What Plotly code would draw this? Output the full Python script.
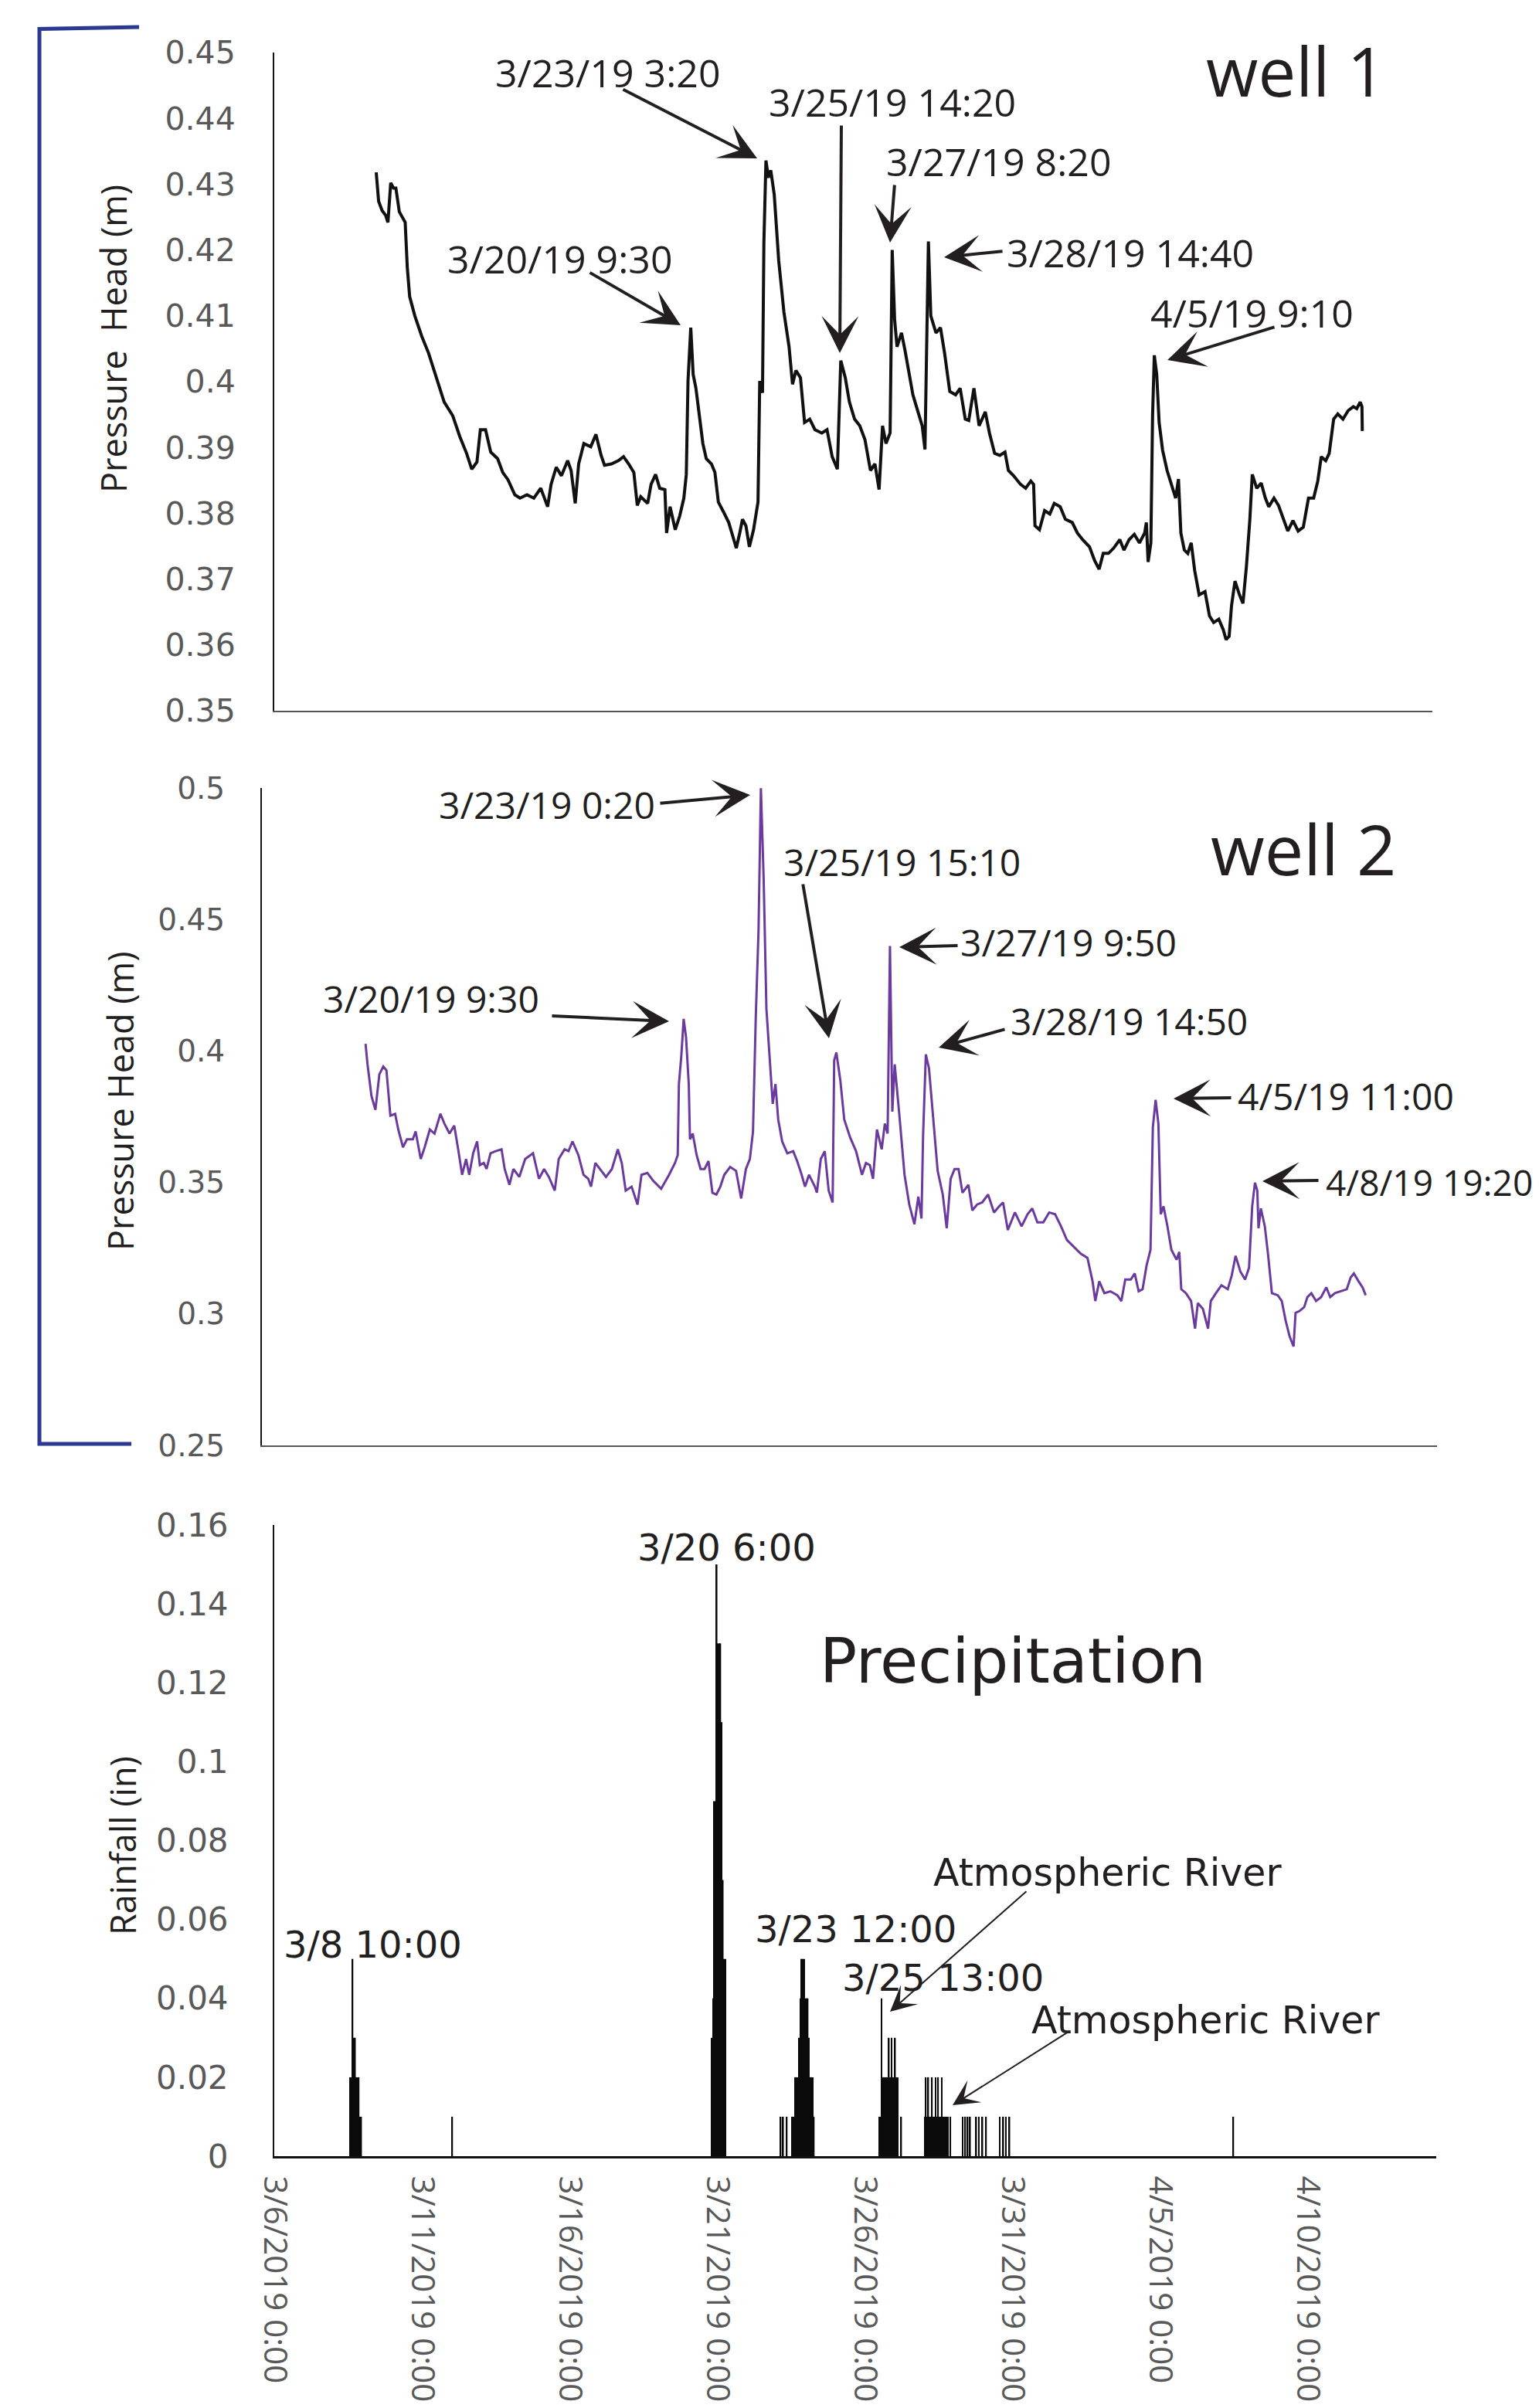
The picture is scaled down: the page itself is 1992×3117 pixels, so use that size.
import plotly.graph_objects as go
import pandas as pd

# ---------------- data ----------------
T0 = pd.Timestamp("2019-03-06 00:00")

# Well 1 pressure head (m); time as elapsed days since 3/6/2019 0:00
well1_days = [3.551, 3.634, 3.753, 3.872, 3.955, 4.051, 4.146, 4.229, 4.348, 4.467, 4.550, 4.622, 4.705, 4.883,
              5.121, 5.359, 5.597, 5.894, 6.192, 6.430, 6.668, 6.846, 7.025, 7.143, 7.322, 7.500, 7.738, 7.916,
              8.095, 8.333, 8.511, 8.749, 8.987, 9.225, 9.463, 9.582, 9.760, 9.939, 10.153, 10.272, 10.414,
              10.533, 10.712, 10.950, 11.128, 11.307, 11.425, 11.663, 11.901, 12.080, 12.258, 12.436, 12.555,
              12.674, 12.912, 13.031, 13.186, 13.329, 13.507, 13.566, 13.686, 13.864, 14.019, 14.161, 14.245,
              14.304, 14.399, 14.482, 14.577, 14.697, 14.816, 14.934, 15.113, 15.232, 15.351, 15.529, 15.708,
              15.850, 15.969, 16.088, 16.183, 16.302, 16.421, 16.564, 16.718, 16.778, 16.873, 16.921, 16.992,
              17.075, 17.159, 17.278, 17.432, 17.611, 17.789, 17.908, 18.027, 18.182, 18.324, 18.503, 18.681,
              18.919, 19.098, 19.276, 19.455, 19.573, 19.728, 19.870, 20.049, 20.227, 20.406,
              20.596, 20.751, 20.894, 21.013, 21.132, 21.274, 21.346, 21.429, 21.512, 21.667, 21.786, 21.905,
              22.060, 22.202, 22.381, 22.476, 22.595, 22.678, 22.856, 23.011, 23.154, 23.332, 23.534, 23.689,
              23.867, 23.986, 24.165, 24.343, 24.557, 24.700, 24.879, 25.057, 25.235, 25.354, 25.533, 25.771,
              25.949, 26.128, 26.223, 26.270, 26.425, 26.603, 26.782, 26.936, 27.139, 27.317, 27.555, 27.733,
              27.912, 28.150, 28.328, 28.483, 28.625, 28.804, 28.982, 29.196, 29.339, 29.517, 29.696, 29.874,
              30.053, 30.112, 30.172, 30.267, 30.326, 30.386, 30.469, 30.552, 30.671, 30.826, 30.981, 31.123,
              31.219, 31.302, 31.421, 31.540, 31.659, 31.778, 31.932, 32.134, 32.289, 32.432, 32.610, 32.765,
              32.860, 32.967, 33.050, 33.169, 33.324, 33.443, 33.562, 33.681, 33.764, 33.919, 34.073, 34.216,
              34.335, 34.513, 34.668, 34.811, 34.989, 35.168, 35.346, 35.524, 35.703, 35.881, 36.024, 36.143,
              36.298, 36.417, 36.571, 36.714, 36.892, 37.071, 37.249, 37.368, 37.487, 37.547, 37.559]
well1_head = [0.4318, 0.4274, 0.4260, 0.4253, 0.4242, 0.4302, 0.4294, 0.4294, 0.4258, 0.4247, 0.4242, 0.4174,
              0.4129, 0.4100, 0.4069, 0.4043, 0.4011, 0.3969, 0.3948, 0.3917, 0.3891, 0.3867, 0.3878, 0.3927,
              0.3927, 0.3893, 0.3883, 0.3862, 0.3851, 0.3828, 0.3823, 0.3828, 0.3823, 0.3838, 0.3810, 0.3844,
              0.3870, 0.3857, 0.3880, 0.3865, 0.3815, 0.3875, 0.3906, 0.3901, 0.3920, 0.3888, 0.3873, 0.3875,
              0.3880, 0.3886, 0.3875, 0.3862, 0.3812, 0.3825, 0.3815, 0.3844, 0.3859, 0.3838, 0.3836, 0.3770,
              0.3810, 0.3775, 0.3796, 0.3823, 0.3859, 0.4001, 0.4082, 0.4011, 0.3990, 0.3948, 0.3906, 0.3883,
              0.3875, 0.3862, 0.3817, 0.3802, 0.3786, 0.3765, 0.3747, 0.3770, 0.3791, 0.3781, 0.3749, 0.3775,
              0.3817, 0.4001, 0.3983, 0.4211, 0.4336, 0.4310, 0.4321, 0.4284, 0.4184, 0.4106, 0.4053, 0.3996,
              0.4017, 0.4006, 0.3938, 0.3943, 0.3927, 0.3922, 0.3927, 0.3886, 0.3867, 0.4032, 0.4006, 0.3969,
              0.3943, 0.3933, 0.3912,
              0.3865, 0.3875, 0.3836, 0.3933, 0.3906, 0.3922, 0.4200, 0.4095, 0.4053, 0.4074, 0.4048, 0.4017,
              0.3980, 0.3959, 0.3933, 0.3897, 0.4213, 0.4100, 0.4074, 0.4082, 0.4043, 0.3985, 0.3980, 0.3990,
              0.3943, 0.3941, 0.3990, 0.3933, 0.3954, 0.3922, 0.3891, 0.3888, 0.3893, 0.3865, 0.3857, 0.3844,
              0.3838, 0.3849, 0.3844, 0.3781, 0.3775, 0.3804, 0.3799, 0.3815, 0.3810, 0.3791, 0.3786, 0.3770,
              0.3760, 0.3749, 0.3728, 0.3715, 0.3739, 0.3739, 0.3747, 0.3760, 0.3744, 0.3760, 0.3768, 0.3755,
              0.3770, 0.3786, 0.3726, 0.3755, 0.3948, 0.4040, 0.4011, 0.3938, 0.3896, 0.3865, 0.3844, 0.3823,
              0.3852, 0.3770, 0.3744, 0.3739, 0.3755, 0.3713, 0.3676, 0.3681, 0.3644, 0.3634, 0.3639, 0.3623,
              0.3608, 0.3613, 0.3660, 0.3697, 0.3676, 0.3663, 0.3719, 0.3791, 0.3859, 0.3838, 0.3846, 0.3823,
              0.3810, 0.3823, 0.3812, 0.3794, 0.3773, 0.3789, 0.3773, 0.3779, 0.3823, 0.3823, 0.3849, 0.3886,
              0.3880, 0.3891, 0.3943, 0.3951, 0.3943, 0.3956, 0.3962, 0.3959, 0.3969, 0.3962, 0.3925]

# Well 2 pressure head (m); time as elapsed days since 3/6/2019 0:00
well2_days = [3.589, 3.656, 3.790, 3.924, 4.058, 4.192, 4.299, 4.433, 4.594, 4.701, 4.861, 4.995, 5.196, 5.290,
              5.464, 5.598, 5.772, 5.933, 6.133, 6.267, 6.442, 6.602, 6.736, 6.870, 7.004, 7.111, 7.245, 7.379,
              7.473, 7.607, 7.700, 7.834, 8.008, 8.209, 8.316, 8.477, 8.611, 8.812, 9.012, 9.280, 9.481, 9.655,
              9.816, 10.017, 10.151, 10.351, 10.485, 10.619, 10.820, 10.994, 11.155, 11.249, 11.396, 11.556,
              11.757, 11.958, 12.159, 12.293, 12.427, 12.628, 12.829, 12.963, 13.163, 13.364, 13.632, 13.900,
              14.101, 14.194, 14.235, 14.315, 14.396, 14.476, 14.570, 14.610, 14.703, 14.837, 14.971, 15.105,
              15.239, 15.373, 15.507, 15.641, 15.775, 15.975, 16.176, 16.350, 16.511, 16.645, 16.752, 16.846,
              16.940, 17.020, 17.114, 17.208, 17.341, 17.422, 17.515, 17.609, 17.743, 17.917, 18.118, 18.252,
              18.386, 18.520, 18.654, 18.855, 18.922, 19.055, 19.189, 19.323, 19.457, 19.510,
              19.584, 19.718, 19.852, 20.053, 20.253, 20.454, 20.588, 20.722, 20.829, 20.963, 21.124, 21.231,
              21.325, 21.405, 21.485, 21.566, 21.726, 21.900, 22.061, 22.235, 22.369, 22.476, 22.530, 22.624,
              22.731, 22.865, 23.025, 23.199, 23.333, 23.467, 23.601, 23.735, 23.869, 24.070, 24.204, 24.364,
              24.538, 24.739, 24.940, 25.114, 25.248, 25.409, 25.650, 25.877, 26.078, 26.239, 26.413, 26.614,
              26.815, 27.016, 27.216, 27.417, 27.685, 27.886, 28.114, 28.288, 28.381, 28.515, 28.689, 28.890,
              29.131, 29.265, 29.399, 29.587, 29.720, 29.854, 29.988, 30.122, 30.256, 30.336, 30.430, 30.524,
              30.604, 30.698, 30.832, 30.966, 31.140, 31.234, 31.301, 31.461, 31.635, 31.769, 31.863, 32.037,
              32.211, 32.305, 32.479, 32.666, 32.881, 33.015, 33.148, 33.309, 33.470, 33.604, 33.711, 33.805,
              33.885, 33.925, 34.006, 34.140, 34.247, 34.381, 34.581, 34.716, 34.849, 34.983, 35.117, 35.184,
              35.318, 35.478, 35.586, 35.720, 35.880, 36.054, 36.228, 36.362, 36.523, 36.724, 36.924, 37.058,
              37.166, 37.326, 37.460, 37.567]
well2_head = [0.4027, 0.3949, 0.3829, 0.3776, 0.3911, 0.3941, 0.3926, 0.3754, 0.3761, 0.3701, 0.3634, 0.3664,
              0.3664, 0.3694, 0.3589, 0.3634, 0.3701, 0.3686, 0.3761, 0.3724, 0.3686, 0.3716, 0.3626, 0.3529,
              0.3589, 0.3529, 0.3611, 0.3656, 0.3566, 0.3574, 0.3551, 0.3611, 0.3619, 0.3626, 0.3551, 0.3491,
              0.3551, 0.3521, 0.3589, 0.3611, 0.3514, 0.3551, 0.3521, 0.3469, 0.3589, 0.3626, 0.3619, 0.3656,
              0.3604, 0.3529, 0.3514, 0.3484, 0.3574, 0.3551, 0.3521, 0.3551, 0.3626, 0.3574, 0.3469, 0.3484,
              0.3416, 0.3529, 0.3536, 0.3506, 0.3476, 0.3529, 0.3574, 0.3604, 0.3874, 0.3979, 0.4122, 0.4054,
              0.3874, 0.3664, 0.3686, 0.3604, 0.3551, 0.3551, 0.3581, 0.3461, 0.3454, 0.3484, 0.3529, 0.3559,
              0.3544, 0.3439, 0.3551, 0.3589, 0.3694, 0.4129, 0.4459, 0.4999, 0.4654, 0.4159, 0.3949, 0.3799,
              0.3874, 0.3739, 0.3656, 0.3611, 0.3619, 0.3581, 0.3536, 0.3484, 0.3529, 0.3484, 0.3461, 0.3589,
              0.3619, 0.3469, 0.3424, 0.3964,
              0.3994, 0.3889, 0.3739, 0.3671, 0.3619, 0.3529, 0.3574, 0.3566, 0.3514, 0.3701, 0.3626, 0.3724,
              0.3686, 0.4399, 0.3769, 0.3949, 0.3754, 0.3529, 0.3416, 0.3341, 0.3446, 0.3363, 0.3679, 0.3987,
              0.3934, 0.3754, 0.3544, 0.3454, 0.3326, 0.3514, 0.3551, 0.3551, 0.3461, 0.3491, 0.3394, 0.3416,
              0.3424, 0.3454, 0.3386, 0.3409, 0.3424, 0.3319, 0.3386, 0.3333, 0.3379, 0.3401, 0.3348, 0.3348,
              0.3386, 0.3379, 0.3333, 0.3281, 0.3251, 0.3229, 0.3213, 0.3124, 0.3049, 0.3124, 0.3079, 0.3086,
              0.3071, 0.3049, 0.3131, 0.3131, 0.3154, 0.3086, 0.3094, 0.3184, 0.3244, 0.3709, 0.3814, 0.3724,
              0.3379, 0.3409, 0.3333, 0.3244, 0.3206, 0.3236, 0.3094, 0.3079, 0.3049, 0.2944, 0.3041, 0.3019,
              0.2944, 0.3049, 0.3079, 0.3109, 0.3094, 0.3146, 0.3221, 0.3161, 0.3131, 0.3176, 0.3409, 0.3499,
              0.3469, 0.3326, 0.3401, 0.3333, 0.3229, 0.3079, 0.3071, 0.3049, 0.2974, 0.2914, 0.2876, 0.3004,
              0.3011, 0.3026, 0.3064, 0.3079, 0.3049, 0.3064, 0.3101, 0.3064, 0.3079, 0.3086, 0.3094, 0.3139,
              0.3154, 0.3124, 0.3101, 0.3071]

# Hourly rainfall (in); time as hour index since 3/6/2019 0:00 (as drawn on the chart's axis)
rain_hours = [61, 62, 63, 64, 65, 66, 67, 68, 69, 70,
              144,
              355, 356, 357, 358, 359, 360, 361, 362, 363, 364, 365, 366,
              411, 413, 416,
              420, 421, 422, 423, 424, 425, 426, 427, 428, 429, 430, 431, 432, 433, 434, 435, 436, 437, 438,
              491, 492, 493, 494, 495, 496, 497, 498, 499, 500, 501, 502, 503, 504, 505, 506, 509,
              528, 529, 530, 531, 532, 533, 534, 535, 536, 537, 538, 539, 540, 541, 542, 543, 544, 545, 546, 547,
              549, 559, 561, 563, 565, 570, 572, 575, 578, 589, 592, 594, 597,
              779]
rain_in = [0.02, 0.02, 0.05, 0.03, 0.03, 0.02, 0.02, 0.02, 0.01, 0.01,
           0.01,
           0.03, 0.04, 0.09, 0.09, 0.15, 0.13, 0.13, 0.13, 0.11, 0.07, 0.05, 0.05,
           0.01, 0.01, 0.01,
           0.01, 0.01, 0.01, 0.02, 0.02, 0.02, 0.03, 0.04, 0.05, 0.05, 0.05, 0.04, 0.04, 0.04, 0.03, 0.02,
           0.02, 0.02, 0.01,
           0.01, 0.01, 0.04, 0.02, 0.02, 0.02, 0.02, 0.02, 0.03, 0.02, 0.03, 0.02, 0.02, 0.03, 0.02, 0.02, 0.01,
           0.01, 0.02, 0.01, 0.02, 0.01, 0.01, 0.02, 0.01, 0.01, 0.02, 0.01, 0.02, 0.01, 0.01, 0.02, 0.01,
           0.01, 0.01, 0.01, 0.01,
           0.01, 0.01, 0.01, 0.01, 0.01, 0.01, 0.01, 0.01, 0.01, 0.01, 0.01, 0.01, 0.01,
           0.01]

# tick labels
well1_ticks = [0.35, 0.36, 0.37, 0.38, 0.39, 0.40, 0.41, 0.42, 0.43, 0.44, 0.45]
well1_ticktext = ["0.35", "0.36", "0.37", "0.38", "0.39", "0.4", "0.41", "0.42", "0.43", "0.44", "0.45"]
well2_ticks = [0.25, 0.30, 0.35, 0.40, 0.45, 0.50]
well2_ticktext = ["0.25", "0.3", "0.35", "0.4", "0.45", "0.5"]
rain_ticks = [0, 0.02, 0.04, 0.06, 0.08, 0.10, 0.12, 0.14, 0.16]
rain_ticktext = ["0", "0.02", "0.04", "0.06", "0.08", "0.1", "0.12", "0.14", "0.16"]
date_ticks = ["2019-03-06", "2019-03-11", "2019-03-16", "2019-03-21", "2019-03-26", "2019-03-31",
              "2019-04-05", "2019-04-10"]
date_ticktext = ["3/6/2019 0:00", "3/11/2019 0:00", "3/16/2019 0:00", "3/21/2019 0:00", "3/26/2019 0:00",
                 "3/31/2019 0:00", "4/5/2019 0:00", "4/10/2019 0:00"]

# annotation texts
well1_labels = ["3/23/19 3:20", "3/20/19 9:30", "3/25/19 14:20", "3/27/19 8:20", "3/28/19 14:40", "4/5/19 9:10"]
well2_labels = ["3/23/19 0:20", "3/20/19 9:30", "3/25/19 15:10", "3/27/19 9:50", "3/28/19 14:50",
                "4/5/19 11:00", "4/8/19 19:20"]
rain_labels = ["3/8 10:00", "3/20 6:00", "3/23 12:00", "3/25 13:00"]

# ---------------- layout helpers ----------------
W, H, OFF = 1976, 3101, 8   # page body margin of 8px


def px(x):
    return (x - OFF) / W


def py(y):
    return 1 - (y - OFF) / H


def t(days):
    return T0 + pd.to_timedelta(days, unit="D")


INK = "#231f20"
GRAY = "#595959"
PURPLE = "#6b3a9e"

fig = go.Figure()
fig.add_trace(go.Scatter(x=[t(d) for d in well1_days], y=well1_head, mode="lines",
                         line=dict(color="#111111", width=4), xaxis="x", yaxis="y", hoverinfo="skip"))
fig.add_trace(go.Scatter(x=[t(d) for d in well2_days], y=well2_head, mode="lines",
                         line=dict(color=PURPLE, width=3), xaxis="x2", yaxis="y2", hoverinfo="skip"))
fig.add_trace(go.Bar(x=[T0 + pd.Timedelta(hours=h + 0.5) for h in rain_hours], y=rain_in,
                     width=3600000, marker=dict(color="#0a0a0a", line=dict(width=0)),
                     xaxis="x3", yaxis="y3", hoverinfo="skip"))

xcommon = dict(type="date", showgrid=False, zeroline=False, ticks="", fixedrange=True, automargin=False)
ycommon = dict(showgrid=False, zeroline=False, ticks="", showline=True, linecolor="#111111", linewidth=2,
               fixedrange=True, automargin=False)

fig.update_layout(
    width=W, height=H, margin=dict(l=0, r=0, t=0, b=0, pad=0, autoexpand=False), autosize=False,
    paper_bgcolor="white", plot_bgcolor="white", showlegend=False,
    xaxis=dict(domain=[px(355), px(1854)], range=[t(0.035), t(39.976)], anchor="y",
               showticklabels=False, showline=True, linecolor="#555555", linewidth=2, **xcommon),
    yaxis=dict(domain=[py(920), py(68)], range=[0.35, 0.45], anchor="x",
               tickvals=well1_ticks, ticktext=well1_ticktext, ticklabelstandoff=40,
               tickfont=dict(family="DejaVu Sans", size=41, color=GRAY), **ycommon),
    xaxis2=dict(domain=[px(339), px(1860)], range=[t(0.068), t(39.99)], anchor="y2",
                showticklabels=False, showline=True, linecolor="#555555", linewidth=2, **xcommon),
    yaxis2=dict(domain=[py(1871), py(1020)], range=[0.25, 0.5], anchor="x2",
                tickvals=well2_ticks, ticktext=well2_ticktext, ticklabelstandoff=38,
                tickfont=dict(family="DejaVu Sans", size=39, color=GRAY), **ycommon),
    xaxis3=dict(domain=[px(355), px(1859)], range=[t(-0.01), t(39.35)], anchor="y3",
                tickvals=date_ticks, ticktext=date_ticktext, tickangle=90, ticklabelstandoff=14,
                tickfont=dict(family="Open Sans", size=42, color=GRAY),
                showline=True, linecolor="#111111", linewidth=3, **xcommon),
    yaxis3=dict(domain=[py(2791), py(1974)], range=[0, 0.16], anchor="x3",
                tickvals=rain_ticks, ticktext=rain_ticktext, ticklabelstandoff=49,
                tickfont=dict(family="DejaVu Sans", size=42, color=GRAY), **ycommon),
)

ann = []


def text_ann(txt, x, y, size, family="Open Sans", xanchor="center", angle=0):
    ann.append(dict(text=txt, x=px(x), y=py(y), xref="paper", yref="paper", showarrow=False,
                    xanchor=xanchor, yanchor="middle", textangle=angle,
                    font=dict(family=family, size=size, color=INK)))


def arrow_ann(tail, head, width, size):
    ann.append(dict(text="", x=px(head[0]), y=py(head[1]), xref="paper", yref="paper",
                    ax=tail[0] - head[0], ay=tail[1] - head[1], showarrow=True,
                    arrowhead=3, arrowsize=size, arrowwidth=width, arrowcolor=INK))


# --- well 1 ---
w1_text_pos = [(787, 94), (725, 335), (1155, 132), (1293, 209), (1463, 327), (1620, 405)]
w1_arrows = [((805, 115), (980, 205)), ((762, 352), (881, 421)), ((1089, 161), (1087, 457)),
             ((1158, 238), (1152, 314)), ((1299, 325), (1222, 333)), ((1651, 423), (1511, 466))]
for lab, (x, y) in zip(well1_labels, w1_text_pos):
    text_ann(lab, x, y, 50)
for tail, head in w1_arrows:
    arrow_ann(tail, head, 4, 2.0)
text_ann("well 1", 1677, 91, 87)
text_ann("Pressure  Head (m)", 146, 439, 45, angle=-90)

# --- well 2 ---
w2_text_pos = [(708, 1041), (558, 1293), (1167, 1115), (1383, 1219), (1461, 1321), (1742, 1418)]
for lab, (x, y) in zip(well2_labels[:6], w2_text_pos):
    text_ann(lab, x, y, 48)
text_ann(well2_labels[6], 1714, 1530, 46, xanchor="left")
w2_arrows = [((853, 1040), (971, 1029)), ((713, 1315), (866, 1322)), ((1039, 1143), (1073, 1344)),
             ((1241, 1224), (1164, 1226)), ((1302, 1332), (1215, 1356)), ((1595, 1421), (1519, 1422)),
             ((1708, 1528), (1634, 1529))]
for tail, head in w2_arrows:
    arrow_ann(tail, head, 4, 2.0)
text_ann("well 2", 1687, 1098, 90)
text_ann("Pressure Head (m)", 155, 1426, 45, angle=-90)

# --- precipitation ---
r_text_pos = [(482, 2517), (940, 2003), (1107, 2497), (1220, 2560)]
for lab, (x, y) in zip(rain_labels, r_text_pos):
    text_ann(lab, x, y, 48, family="DejaVu Sans")
text_ann("Atmospheric River", 1433, 2424, 49, family="DejaVu Sans")
text_ann("Atmospheric River", 1560, 2615, 49, family="DejaVu Sans")
arrow_ann((1330, 2447), (1152, 2604), 2, 2.8)
arrow_ann((1383, 2630), (1233, 2725), 2, 2.8)
text_ann("Precipitation", 1311, 2150, 80, family="DejaVu Sans")
text_ann("Rainfall (in)", 158, 2389, 45, angle=-90)

fig.update_layout(annotations=ann)

# blue bracket grouping the two wells
fig.add_shape(type="path", xref="paper", yref="paper",
              path="M {:.5f},{:.5f} L {:.5f},{:.5f} L {:.5f},{:.5f} L {:.5f},{:.5f}".format(
                  px(180), py(35), px(51), py(37.5), px(51), py(1869), px(170), py(1869)),
              line=dict(color="#2b3990", width=5))

fig.write_html("out.html")
